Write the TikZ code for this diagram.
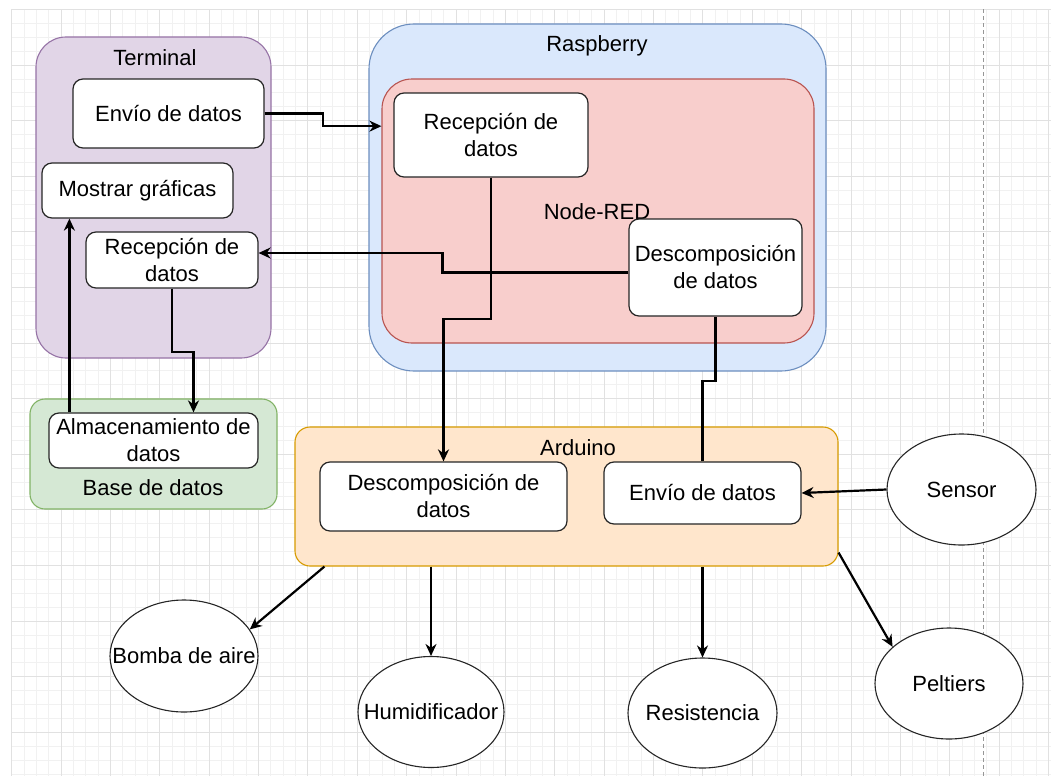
\documentclass[tikz,border=0pt]{standalone}
\usepackage{fontspec}
\setmainfont{Liberation Sans}
\usetikzlibrary{positioning, calc, shapes.geometric, arrows.meta}
\definecolor{minorGridColor}{RGB}{241,241,241}
\definecolor{majorGridColor}{RGB}{225,225,225}
\definecolor{pageBreakColor}{RGB}{150,150,150}
\definecolor{terminalFill}{HTML}{E1D5E7}
\definecolor{terminalLine}{HTML}{9673A6}
\definecolor{raspberryFill}{HTML}{DAE8FC}
\definecolor{raspberryLine}{HTML}{6C8EBF}
\definecolor{nodeRedFill}{HTML}{F8CECC}
\definecolor{nodeRedLine}{HTML}{B85450}
\definecolor{baseFill}{HTML}{D5E8D4}
\definecolor{baseLine}{HTML}{82B366}
\definecolor{arduinoFill}{HTML}{FFE6CC}
\definecolor{arduinoLine}{HTML}{D79B00}
\tikzstyle{diagram} = [x = 1pt, y = -1pt]
\tikzstyle{minorGridLine} = [color=minorGridColor, line width=0.8pt]
\tikzstyle{majorGridLine} = [color=majorGridColor, line width=0.9pt]
\tikzstyle{pageBreak} = [color=pageBreakColor, line width=0.8pt, dash pattern=on 4pt off 3pt]
\tikzstyle{containerStyle} = [draw, line width=1.1pt, inner sep=0pt]
\tikzstyle{boxStyle} = [draw=black!85, fill=white, rounded corners=10pt, line width=1.2pt, align=center, inner sep=0pt, font=\fontsize{22}{27}\selectfont]
\tikzstyle{deviceStyle} = [ellipse, draw=black!85, fill=white, line width=1.1pt, inner sep=0pt, font=\fontsize{22}{27}\selectfont]
\tikzstyle{labelText} = [inner sep=0pt, font=\fontsize{22}{27}\selectfont]
\tikzstyle{flowLine} = [line width=2.2pt]
\tikzstyle{flowArrow} = [flowLine, -{Stealth[length=12pt, width=11pt]}]
\newcommand{\dataBox}[6]{\node [boxStyle, minimum width = #4, minimum height = #5] (#1) at (#2, #3) {#6};}
\newcommand{\deviceNode}[6]{\node [deviceStyle, minimum width = #4, minimum height = #5] (#1) at (#2, #3) {\makebox[0pt]{#6}};}
\newcommand{\containerBox}[7]{\node [containerStyle, #6, rounded corners = #7, minimum width = #4, minimum height = #5] (#1) at (#2, #3) {};}
\newcommand{\gridLines}{
  \foreach \column in {0,...,84} {
    \pgfmathsetmacro{\var}{11.6 + 12.344 * \column}
    \draw [minorGridLine] (\var, 9.4) -- (\var, 776);
  }
  \foreach \row in {0,...,55} {
    \pgfmathsetmacro{\var}{9.4 + 13.9 * \row}
    \draw [minorGridLine] (11.6, \var) -- (1051, \var);
  }
  \foreach \column in {0,...,21} {
    \pgfmathsetmacro{\var}{11.6 + 49.375 * \column}
    \draw [majorGridLine] (\var, 9.4) -- (\var, 776);
  }
  \foreach \row in {0,...,13} {
    \pgfmathsetmacro{\var}{9.4 + 55.6 * \row}
    \draw [majorGridLine] (11.6, \var) -- (1051, \var);
  }
}
\begin{document}
\begin{tikzpicture}[diagram]
  \fill [white] (0, 0) rectangle (1051, 776);
  \useasboundingbox (0, 0) rectangle (1051, 776);
  \gridLines
  \draw [pageBreak] (983, 9.4) -- (983, 776);

  \containerBox{terminal}{153.5}{197.5}{235}{321}{draw=terminalLine, fill=terminalFill}{30pt}
  \containerBox{raspberry}{597.5}{197.5}{457}{347}{draw=raspberryLine, fill=raspberryFill}{45pt}
  \containerBox{nodeRed}{598}{211}{432}{264}{draw=nodeRedLine, fill=nodeRedFill}{30pt}
  \containerBox{baseDatos}{153.5}{454}{247}{110}{draw=baseLine, fill=baseFill}{15pt}
  \containerBox{arduino}{566.5}{496.5}{543}{139}{draw=arduinoLine, fill=arduinoFill}{15pt}

  \node [labelText] (terminalLabel) at (155, 58) {Terminal};
  \node [labelText] (raspberryLabel) at (597, 46) {Raspberry};
  \node [labelText] (nodeRedLabel) at (597, 212) {Node-RED};
  \node [labelText] (baseDatosLabel) at (153, 488) {Base de datos};
  \node [labelText] (arduinoLabel) at (578, 448) {Arduino};

  \dataBox{envioTerminal}{168.5}{113.5}{191}{69}{Envío de datos}
  \dataBox{mostrarGraficas}{137.5}{190.5}{191}{55}{Mostrar gráficas}
  \dataBox{recepcionTerminal}{172}{260}{172}{56}{Recepción de\\datos}
  \dataBox{recepcionRed}{491}{135}{194}{84}{Recepción de\\datos}
  \dataBox{descomposicionRed}{715.5}{267.5}{173}{97}{Descomposición\\de datos}
  \dataBox{almacenamiento}{153.5}{440.5}{209}{55}{Almacenamiento de\\datos}
  \dataBox{descomposicionArduino}{443.5}{496.5}{247}{69}{Descomposición de\\datos}
  \dataBox{envioArduino}{702.5}{493}{197}{62}{Envío de datos}

  \deviceNode{sensor}{961.5}{489.5}{149}{111}{Sensor}
  \deviceNode{peltiers}{949}{683.5}{148}{111}{Peltiers}
  \deviceNode{bomba}{184}{656}{148}{112}{Bomba de aire}
  \deviceNode{humidificador}{431}{712}{146}{111}{Humidificador}
  \deviceNode{resistencia}{702.5}{713}{149}{110}{Resistencia}

  \draw [flowArrow] (envioTerminal.east) -- ($(envioTerminal.east)+(58,0)$) |- ($(nodeRed.north west)!0.18!(nodeRed.south west)$);
  \draw [flowArrow] ([yshift=-5pt]descomposicionRed.west) -- ++(-186,0) |- ([yshift=7pt]recepcionTerminal.east);
  \draw [flowArrow] (recepcionRed.south) -- ++(0,141) -| (descomposicionArduino.north);
  \draw [flowLine] (envioArduino.north) |- ($(descomposicionRed.south)+(0,64)$) -- (descomposicionRed.south);
  \draw [flowArrow] (recepcionTerminal.south) -- ++(0,63) -| ($(almacenamiento.north)+(40,0)$);
  \draw [flowArrow] ($(almacenamiento.north west)+(21,0)$) -- ($(mostrarGraficas.south west)+(28,0)$);
  \draw [flowArrow] (sensor.west) -- (envioArduino.east);
  \draw [flowArrow] ($(arduino.south west)+(30,0)$) -- (bomba.22);
  \draw [flowArrow] (humidificador.north |- arduino.south) -- (humidificador.north);
  \draw [flowArrow] (resistencia.north |- arduino.south) -- (resistencia.north);
  \draw [flowArrow] ($(arduino.south east)+(0,-14)$) -- (peltiers.147);
\end{tikzpicture}
\end{document}
